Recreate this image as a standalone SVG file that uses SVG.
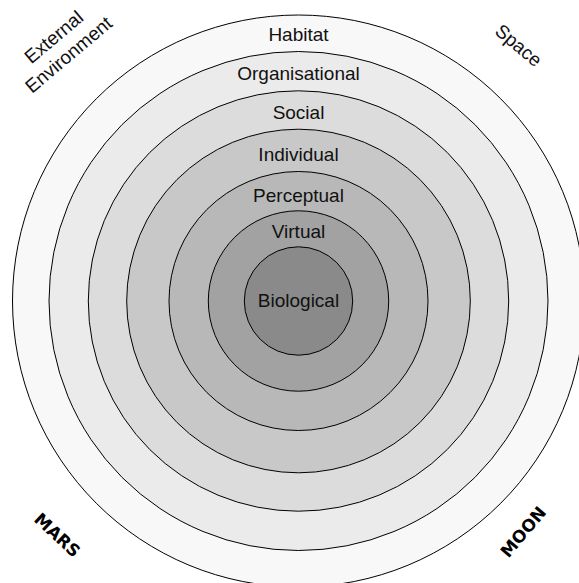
<svg xmlns="http://www.w3.org/2000/svg" width="579" height="583" viewBox="0 0 579 583">
<style>
.ring{stroke:#000;stroke-width:1}
.lbl{font-family:"Liberation Sans",Arial,sans-serif;font-size:19px;fill:#111;text-anchor:middle}
.bold{font-family:"DejaVu Sans",Verdana,sans-serif;font-weight:bold;font-size:17px;fill:#000;text-anchor:middle}
</style>
<rect width="579" height="583" fill="#fff"/>
<g id="habitat"><circle class="ring" cx="298.5" cy="301" r="286" fill="#f8f8f8"/><text class="lbl" x="298.5" y="40.5">Habitat</text></g>
<g id="organisational"><circle class="ring" cx="298.5" cy="301" r="249.5" fill="#ebebeb"/><text class="lbl" x="298.5" y="80">Organisational</text></g>
<g id="social"><circle class="ring" cx="298.5" cy="301" r="210.2" fill="#dcdcdc"/><text class="lbl" x="298.5" y="119">Social</text></g>
<g id="individual"><circle class="ring" cx="298.5" cy="301" r="171.8" fill="#c8c8c8"/><text class="lbl" x="298.5" y="160.5">Individual</text></g>
<g id="perceptual"><circle class="ring" cx="298.5" cy="301" r="129.5" fill="#b8b8b8"/><text class="lbl" x="298.5" y="201.5">Perceptual</text></g>
<g id="virtual"><circle class="ring" cx="298.5" cy="301" r="90.2" fill="#a2a2a2"/><text class="lbl" x="298.5" y="237.5">Virtual</text></g>
<g id="biological"><circle class="ring" cx="298.5" cy="301" r="54.2" fill="#8a8a8a"/><text class="lbl" x="298.5" y="306.5">Biological</text></g>
<g id="external"><text class="lbl" transform="translate(58,42) rotate(-40)"><tspan x="0" y="0">External</tspan><tspan x="0" y="23">Environment</tspan></text></g>
<g id="space"><text class="lbl" transform="translate(514.4,50.4) rotate(40)">Space</text></g>
<g id="mars"><text class="bold" transform="translate(53.3,539.5) rotate(43)">MARS</text></g>
<g id="moon"><text class="bold" transform="translate(527.8,535.8) rotate(-50)">MOON</text></g>
<g id="connectors"/>
</svg>
